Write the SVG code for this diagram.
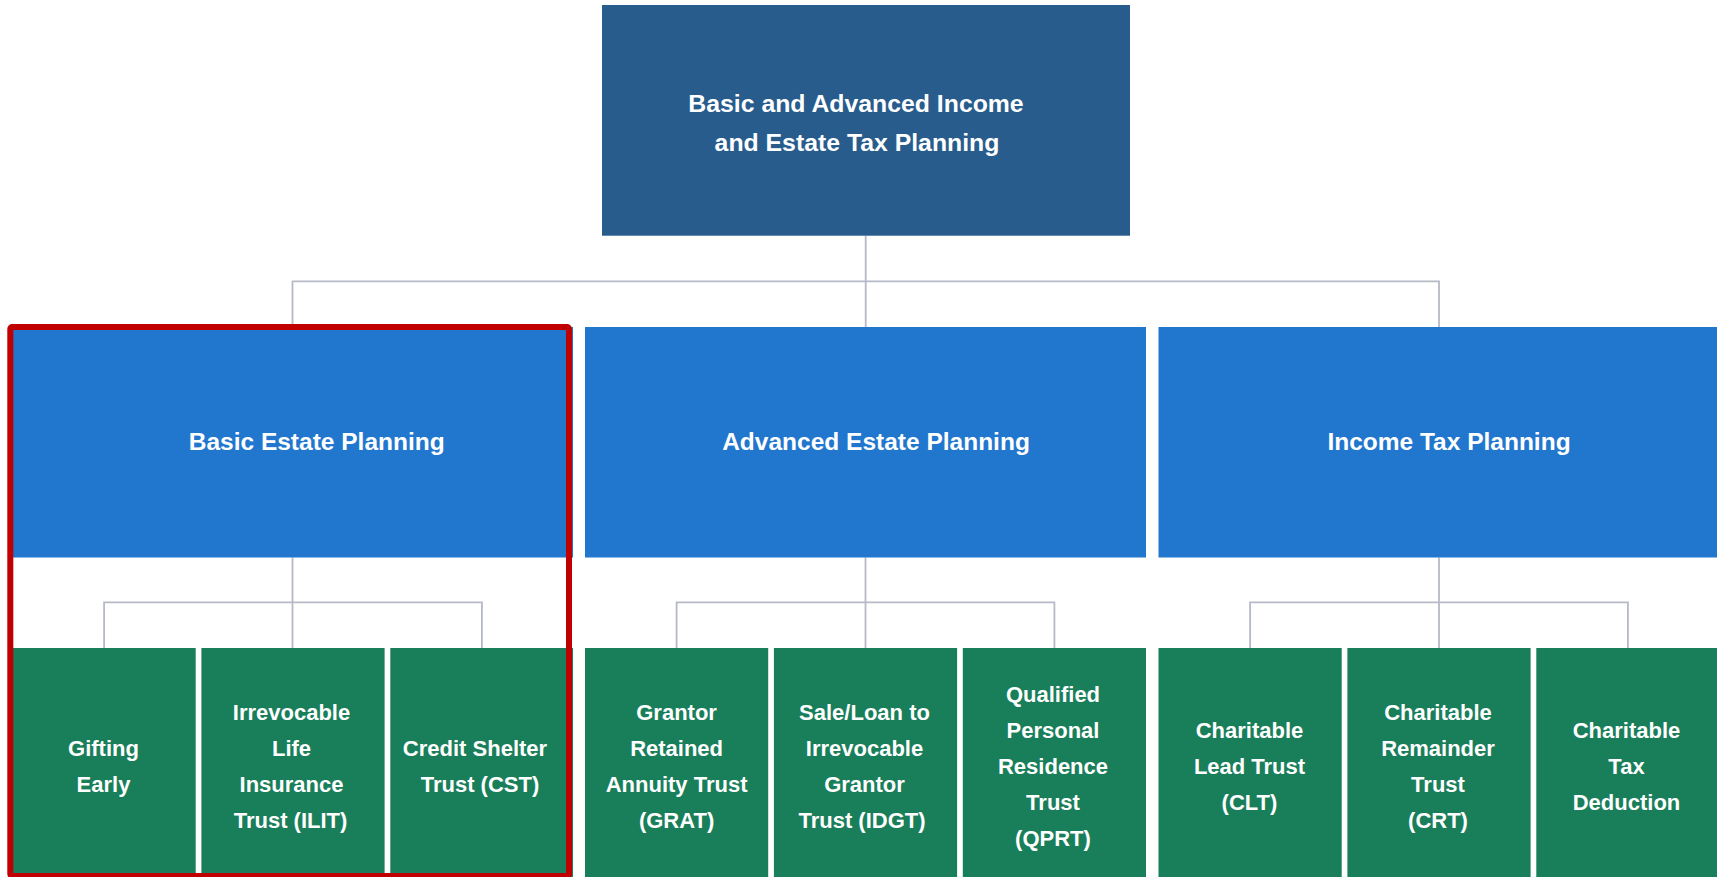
<svg xmlns="http://www.w3.org/2000/svg" width="1717" height="877" viewBox="0 0 1717 877">
<style>
.top{fill:#275C8D}
.mid{fill:#2176CE}
.leaf{fill:#197E5A}
.t{fill:#FFFFFF;font-family:"Liberation Sans",Arial,sans-serif;font-weight:bold;text-anchor:middle}
.t1{font-size:24.8px}
.t2{font-size:24.5px}
.t3{font-size:22px}
.conn{fill:none;stroke:#B5BAC6;stroke-width:1.8}
.hl{fill:none;stroke:#C00000;stroke-width:6}
</style>
<rect width="1717" height="877" fill="#FFFFFF"/>
<g id="connectors">
<path class="conn" d="M865.7 235.7 V327 M292.5 327 V281.3 H1439 V327"/>
<path class="conn" d="M292.5 557.5 V602.3 M104.1 648 V602.3 H481.9 V648 M292.5 602.3 V648"/>
<path class="conn" d="M865.5 557.5 V602.3 M676.6 648 V602.3 H1054.4 V648 M865.5 602.3 V648"/>
<path class="conn" d="M1439 557.5 V602.3 M1250.1 648 V602.3 H1627.9 V648 M1439 602.3 V648"/>
</g>
<g id="root">
<rect class="top" x="602" y="5" width="528" height="230.7"/>
<text class="t t1" x="856" y="111.7">Basic and Advanced Income</text>
<text class="t t1" x="857" y="150.7">and Estate Tax Planning</text>
</g>
<g id="basic">
<rect class="mid" x="12.5" y="327" width="560.5" height="230.5"/>
<text class="t t2" x="316.7" y="449.5">Basic Estate Planning</text>
</g>
<g id="advanced">
<rect class="mid" x="585" y="327" width="561" height="230.5"/>
<text class="t t2" x="876" y="449.5">Advanced Estate Planning</text>
</g>
<g id="income">
<rect class="mid" x="1158.5" y="327" width="561" height="230.5"/>
<text class="t t2" x="1449" y="449.5">Income Tax Planning</text>
</g>
<g id="gifting">
<rect class="leaf" x="12.5" y="648" width="183.2" height="235"/>
<text class="t t3" x="103.5" y="755.5">Gifting</text>
<text class="t t3" x="103.5" y="791.5">Early</text>
</g>
<g id="ilit">
<rect class="leaf" x="201.4" y="648" width="183.2" height="235"/>
<text class="t t3" x="291.5" y="719.5">Irrevocable</text>
<text class="t t3" x="291.5" y="755.5">Life</text>
<text class="t t3" x="291.5" y="791.5">Insurance</text>
<text class="t t3" x="290.5" y="827.5">Trust (ILIT)</text>
</g>
<g id="cst">
<rect class="leaf" x="390.3" y="648" width="182.7" height="235"/>
<text class="t t3" x="475" y="755.5">Credit Shelter</text>
<text class="t t3" x="480" y="791.5">Trust (CST)</text>
</g>
<g id="grat">
<rect class="leaf" x="585" y="648" width="183.2" height="235"/>
<text class="t t3" x="676.6" y="719.5">Grantor</text>
<text class="t t3" x="676.6" y="755.5">Retained</text>
<text class="t t3" x="676.6" y="791.5">Annuity Trust</text>
<text class="t t3" x="676.6" y="827.5">(GRAT)</text>
</g>
<g id="idgt">
<rect class="leaf" x="773.9" y="648" width="183.2" height="235"/>
<text class="t t3" x="864.5" y="719.5">Sale/Loan to</text>
<text class="t t3" x="864.5" y="755.5">Irrevocable</text>
<text class="t t3" x="864.5" y="791.5">Grantor</text>
<text class="t t3" x="862" y="827.5">Trust (IDGT)</text>
</g>
<g id="qprt">
<rect class="leaf" x="962.8" y="648" width="183.2" height="235"/>
<text class="t t3" x="1053" y="701.5">Qualified</text>
<text class="t t3" x="1053" y="737.5">Personal</text>
<text class="t t3" x="1053" y="773.5">Residence</text>
<text class="t t3" x="1053" y="809.5">Trust</text>
<text class="t t3" x="1053" y="845.5">(QPRT)</text>
</g>
<g id="clt">
<rect class="leaf" x="1158.5" y="648" width="183.2" height="235"/>
<text class="t t3" x="1249.5" y="737.5">Charitable</text>
<text class="t t3" x="1249.5" y="773.5">Lead Trust</text>
<text class="t t3" x="1249.5" y="809.5">(CLT)</text>
</g>
<g id="crt">
<rect class="leaf" x="1347.4" y="648" width="183.2" height="235"/>
<text class="t t3" x="1438" y="719.5">Charitable</text>
<text class="t t3" x="1438" y="755.5">Remainder</text>
<text class="t t3" x="1438" y="791.5">Trust</text>
<text class="t t3" x="1438" y="827.5">(CRT)</text>
</g>
<g id="deduction">
<rect class="leaf" x="1536.3" y="648" width="183.2" height="235"/>
<text class="t t3" x="1626.5" y="737.5">Charitable</text>
<text class="t t3" x="1626.5" y="773.5">Tax</text>
<text class="t t3" x="1626.5" y="809.5">Deduction</text>
</g>
<g id="highlight">
<rect class="hl" x="10.3" y="327" width="558.7" height="549" rx="2"/>
</g>
</svg>
